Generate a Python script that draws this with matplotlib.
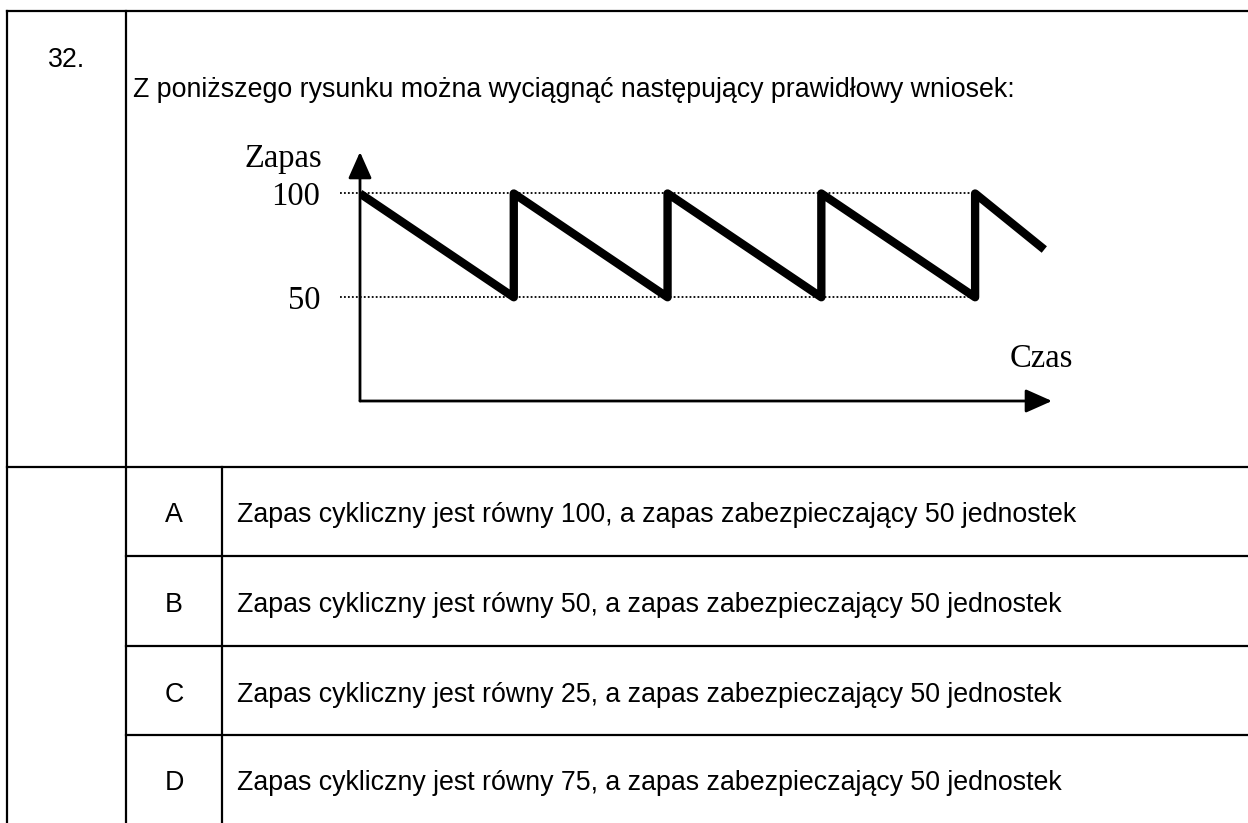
import matplotlib
matplotlib.use("Agg")
import matplotlib.pyplot as plt

# ---- data ----
question_no = "32."
question = "Z poniższego rysunku można wyciągnąć następujący prawidłowy wniosek:"
option_letters = ["A", "B", "C", "D"]
option_texts = [
    "Zapas cykliczny jest równy 100, a zapas zabezpieczający 50 jednostek",
    "Zapas cykliczny jest równy 50, a zapas zabezpieczający 50 jednostek",
    "Zapas cykliczny jest równy 25, a zapas zabezpieczający 50 jednostek",
    "Zapas cykliczny jest równy 75, a zapas zabezpieczający 50 jednostek",
]
time = [0, 1, 1, 2, 2, 3, 3, 4, 4, 4.45]
stock = [100, 50, 100, 50, 100, 50, 100, 50, 100, 73]
ref_levels = [100, 50]
ref_labels = ["100", "50"]
y_label = "Zapas"
x_label = "Czas"

W, H = 1248, 823
fig = plt.figure(figsize=(W / 100, H / 100), dpi=100)
fig.patch.set_facecolor("white")

# background axes in pixel coords for table
bg = fig.add_axes([0, 0, 1, 1])
bg.set_xlim(0, W)
bg.set_ylim(H, 0)
bg.axis("off")

lw_tab = 1.6
def hline(y, x0, x1):
    bg.plot([x0, x1], [y, y], color="black", lw=lw_tab, solid_capstyle="projecting")
def vline(x, y0, y1):
    bg.plot([x, x], [y0, y1], color="black", lw=lw_tab, solid_capstyle="projecting")

top, split = 11, 467
rows = [467, 556, 646, 735, 823]
hline(top, 7, W + 5)
hline(split, 7, W + 5)
for r in rows[1:-1]:
    hline(r, 126, W + 5)
vline(7, top, H + 5)
vline(126, top, H + 5)
vline(222, split, H + 5)

sans = ["Liberation Sans", "DejaVu Sans"]
serif = ["Liberation Serif", "DejaVu Serif"]
fs = 19.3
bg.text(48, 67, question_no, fontsize=fs, family=sans, ha="left", va="baseline")
bg.text(133, 97, question, fontsize=fs, family=sans, ha="left", va="baseline")
for i, (L, t) in enumerate(zip(option_letters, option_texts)):
    yb = rows[i] + 55.5
    bg.text(174, yb, L, fontsize=fs, family=sans, ha="center", va="baseline")
    bg.text(237, yb, t, fontsize=fs, family=sans, ha="left", va="baseline")

# chart axes: x in [0,4.5] -> px [360,1052], y in [0,120] -> px [401,152]
x0p, x1p, y0p, y1p = 360, 1052, 401, 152
ax = fig.add_axes([x0p / W, 1 - y0p / H, (x1p - x0p) / W, (y0p - y1p) / H])
ax.set_xlim(0, 4.5)
ax.set_ylim(0, 120)
ax.patch.set_alpha(0)
for s in ax.spines.values():
    s.set_visible(False)
ax.set_xticks([])
ax.set_yticks(ref_levels)
ax.set_yticklabels(ref_labels, family=serif, fontsize=23.5)
ax.tick_params(axis="y", length=0, pad=28.5)

for lv in ref_levels:
    ax.plot([-0.13, 4], [lv, lv], color="black", lw=1.3, ls=(0, (1, 1.2)), clip_on=False, zorder=1)

ax.plot(time, stock, color="black", lw=6.0, solid_joinstyle="round", solid_capstyle="butt", zorder=3)

arrow = dict(arrowstyle="-|>,head_length=0.9,head_width=0.4", color="black", lw=2.0,
             shrinkA=0, shrinkB=0, mutation_scale=18)
ax.annotate("", xy=(4.5, 0), xytext=(0, 0), arrowprops=arrow, annotation_clip=False)
ax.annotate("", xy=(0, 120), xytext=(0, 0), arrowprops=arrow, annotation_clip=False)

bg.text(283, 167, y_label, family=serif, fontsize=23.5, ha="center", va="baseline")
bg.text(1073, 367, x_label, family=serif, fontsize=23.5, ha="right", va="baseline")

fig.savefig("out.png", dpi=100, facecolor="white")
